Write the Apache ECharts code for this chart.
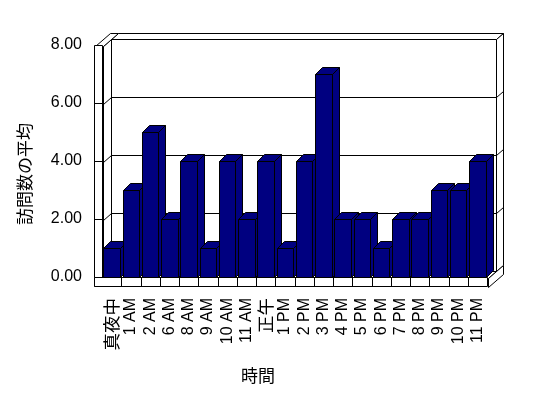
<!DOCTYPE html>
<html><head><meta charset="utf-8">
<script src="https://cdn.jsdelivr.net/npm/echarts@6/dist/echarts.min.js"></script>
<style>html,body{margin:0;padding:0;background:#fff}#c{width:548px;height:398px}</style>
</head><body><div id="c"></div>
<script>
const categories = ['真夜中','1 AM','2 AM','6 AM','8 AM','9 AM','10 AM','11 AM','正午','1 PM','2 PM','3 PM','4 PM','5 PM','6 PM','7 PM','8 PM','9 PM','10 PM','11 PM'];
const visits = [1,3,5,2,4,1,4,2,4,1,4,7,2,2,1,2,2,3,3,4];
const yTickValues = [0,2,4,6,8];
const yTitle = '訪問数の平均';
const xTitle = '時間';

const yMin = yTickValues[0], yMax = yTickValues[yTickValues.length-1];
const Z_BACK_FRONT = 8, Z_BACK_REAR = 15, KY = 0.86;
const WALL = 7.6, FLOOR = 9.3;
const BAR_DX = 7, BAR_DY = 7, BAR_RATIO = 0.87;
const NAVY = '#000080';
const c = (n) => Math.round(n) + 0.5;
const cp = (p) => [c(p[0]), c(p[1])];
function P(x, y, z) { return cp([x + z, y - z * KY]); }

function frameRender(params, api) {
  const cs = params.coordSys;
  const L = cs.x, R = cs.x + cs.width, T = cs.y, B = cs.y + cs.height;
  const z1 = Z_BACK_FRONT, z2 = Z_BACK_REAR;
  const children = [];
  const poly = (pts) => children.push({type:'polygon', shape:{points:pts.map(cp)}, style:{fill:'#fff', stroke:'#000', lineWidth:1}});
  const line = (a, b) => { a = cp(a); b = cp(b); children.push({type:'line', shape:{x1:a[0], y1:a[1], x2:b[0], y2:b[1]}, style:{stroke:'#000', lineWidth:1}}); };
  poly([P(L,T,z1), P(R,T,z1), P(R,B,z1), P(L,B,z1)]);
  poly([P(L,T,z1), P(R,T,z1), P(R,T,z2), P(L,T,z2)]);
  poly([P(R,T,z1), P(R,T,z2), P(R,B,z2), P(R,B,z1)]);
  const inner = yTickValues.filter(v => v !== yMin && v !== yMax);
  inner.forEach(v => {
    const y = api.coord([0, v])[1];
    line(P(L,y,z1), P(R,y,z1));
    line(P(R,y,z1), P(R,y,z2));
  });
  poly([P(L,T,0), P(L,T,z1), P(L,B,z1), P(L,B,0)]);
  poly([P(L-WALL,T,0), P(L,T,0), P(L,T,z2), P(L-WALL,T,z2)]);
  poly([[L-WALL,T], [L,T], [L,B+FLOOR], [L-WALL,B+FLOOR]]);
  inner.forEach(v => {
    const y = api.coord([0, v])[1];
    line([L-WALL,y], [L,y]);
    line(P(L,y,0), P(L,y,z1));
  });
  poly([P(L,B,0), P(R,B,0), P(R,B,z1), P(L,B,z1)]);
  poly([P(R,B,0), P(R,B,z2), P(R,B+FLOOR,z2), P(R,B+FLOOR,0)]);
  poly([[L-WALL,B], [R,B], [R,B+FLOOR], [L-WALL,B+FLOOR]]);
  const bw = api.size([1, 0])[0];
  for (let i = 1; i < categories.length; i++) {
    const x = api.coord([i, 0])[0] - bw / 2;
    line([x, B], [x, B + FLOOR]);
  }
  return {type:'group', children};
}

function barRender(params, api) {
  const i = api.value(0), v = api.value(1);
  const top = api.coord([i, v]), base = api.coord([i, 0]);
  const bw = api.size([1, 0])[0];
  const w = bw * BAR_RATIO;
  const x0 = c(top[0] - w / 2), x1 = c(top[0] + w / 2), yT = c(top[1]), yB = c(base[1]);
  const st = {fill: NAVY, stroke: '#000', lineWidth: 1};
  return {type:'group', children:[
    {type:'polygon', shape:{points:[[x1,yT],[x1+BAR_DX,yT-BAR_DY],[x1+BAR_DX,yB-BAR_DY],[x1,yB]]}, style:st},
    {type:'polygon', shape:{points:[[x0,yT],[x1,yT],[x1+BAR_DX,yT-BAR_DY],[x0+BAR_DX,yT-BAR_DY]]}, style:st},
    {type:'rect', shape:{x:x0, y:yT, width:x1-x0, height:yB-yT}, style:st}
  ]};
}

const chart = echarts.init(document.getElementById('c'));
chart.setOption({
  animation: false,
  backgroundColor: '#fff',
  grid: {left: 102, right: 61, top: 45, bottom: 121},
  xAxis: {
    type: 'category', data: categories,
    axisLine: {show: false}, axisTick: {show: false}, splitLine: {show: false},
    axisLabel: {
      interval: 0, rotate: 90, margin: 21, color: '#000', fontSize: 16, fontFamily: 'Liberation Sans',
      formatter: v => /[^\x00-\x7f]/.test(v) ? '{c|' + v + '}' : v,
      rich: {c: {fontSize: 17.5, fontFamily: 'Noto Sans CJK JP', color: '#000'}}
    }
  },
  yAxis: {
    type: 'value', min: yMin, max: yMax, interval: 2,
    axisLine: {show: false}, axisTick: {show: false}, splitLine: {show: false},
    axisLabel: {margin: 20, color: '#000', fontSize: 16, fontFamily: 'Liberation Sans', formatter: v => v.toFixed(2)}
  },
  graphic: [
    {type:'text', x: 25, y: 174, rotation: Math.PI/2,
     style:{text: yTitle, fontSize: 17, fontFamily: 'Noto Sans CJK JP', fill: '#000', align: 'center', verticalAlign: 'middle'}},
    {type:'text', x: 258, y: 376,
     style:{text: xTitle, fontSize: 17, fontFamily: 'Noto Sans CJK JP', fill: '#000', align: 'center', verticalAlign: 'middle'}}
  ],
  series: [
    {type:'custom', z: 1, clip: false, renderItem: frameRender, data: [[0, 0]], encode:{x:0, y:1}, silent: true},
    {type:'custom', z: 2, clip: false, renderItem: barRender, data: visits.map((v, i) => [i, v]), encode:{x:0, y:1}}
  ]
});
</script>
</body></html>
